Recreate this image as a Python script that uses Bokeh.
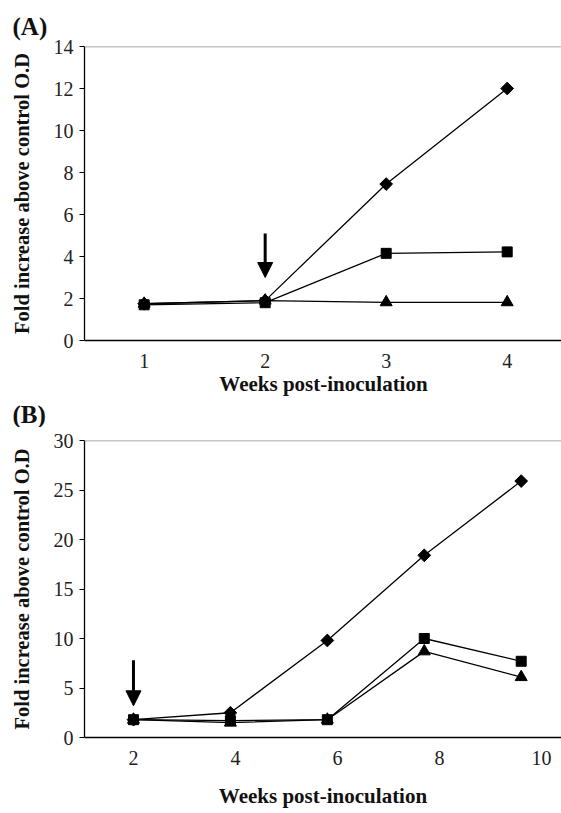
import math
from bokeh.plotting import figure
from bokeh.layouts import column
from bokeh.models import Span, Arrow, NormalHead, Range1d, FixedTicker, Title
from bokeh.embed import file_html
from bokeh.resources import INLINE

# ---------------- data: panel A ----------------
weeks_a = [1, 2, 3, 4]
diamond_a = [1.75, 1.9, 7.45, 12.0]
square_a = [1.7, 1.8, 4.15, 4.22]
triangle_a = [1.75, 1.9, 1.82, 1.82]
yticks_a = [0, 2, 4, 6, 8, 10, 12, 14]
xticks_a = [1, 2, 3, 4]
arrow_a = (2, 5.1, 2, 3.0)

# ---------------- data: panel B ----------------
weeks_b = [2, 3.9, 5.8, 7.7, 9.6]
diamond_b = [1.8, 2.5, 9.8, 18.4, 25.9]
square_b = [1.8, 1.7, 1.8, 10.0, 7.7]
triangle_b = [1.8, 1.5, 1.8, 8.7, 6.1]
yticks_b = [0, 5, 10, 15, 20, 25, 30]
xticks_b = [2, 4, 6, 8, 10]
arrow_b = (2, 7.8, 2, 3.2)

YLABEL = "Fold increase above control O.D"
XLABEL = "Weeks post-inoculation"
FONT = "Liberation Serif"


def tag_title(text, left, standoff):
    return Title(text=text, align="left", offset=-(left - 11), standoff=standoff,
                 text_font=FONT, text_font_style="bold", text_font_size="25px",
                 text_color="#111111")


def make_panel(xs, dia, sq, tri, xr, yr, yticks, xticks, arrow,
               fh, top, bottom, left, xlab_standoff):
    p = figure(output_backend="svg", toolbar_location=None,
               frame_width=561 - left, frame_height=fh,
               min_border_left=left, min_border_right=0,
               min_border_top=top, min_border_bottom=bottom,
               x_range=Range1d(*xr), y_range=Range1d(*yr))
    p.outline_line_color = None
    p.xgrid.grid_line_color = None
    p.ygrid.grid_line_color = None

    # top border line (gray)
    p.add_layout(Span(location=yr[1], dimension="width", line_color="#8c8c8c",
                      line_width=1.5))

    for ys in (dia, sq, tri):
        p.line(xs, ys, line_color="black", line_width=1.3)
    p.scatter(xs, dia, marker="square", angle=math.pi / 4, size=9, color="black")
    p.scatter(xs, sq, marker="square", size=10, color="black")
    p.scatter(xs, tri, marker="triangle", size=12, color="black")

    p.add_layout(Arrow(end=NormalHead(size=15, fill_color="black", line_color="black"),
                       x_start=arrow[0], y_start=arrow[1], x_end=arrow[2], y_end=arrow[3],
                       line_width=3, line_color="black"))

    p.yaxis.ticker = FixedTicker(ticks=yticks)
    p.xaxis.ticker = FixedTicker(ticks=xticks)
    for ax in (p.xaxis[0], p.yaxis[0]):
        ax.axis_line_color = "black"
        ax.axis_line_width = 1.3
        ax.minor_tick_line_color = None
        ax.major_label_text_font = FONT
        ax.major_label_text_font_size = "20px"
        ax.major_label_text_color = "#222222"
        ax.axis_label_text_font = FONT
        ax.axis_label_text_font_style = "bold"
        ax.axis_label_text_color = "#111111"
    p.xaxis.axis_label_text_font_size = "21px"
    p.yaxis.axis_label_text_font_size = "20.5px"
    p.xaxis.major_tick_line_color = None
    p.xaxis.major_label_standoff = 7
    p.xaxis.axis_label = XLABEL
    p.xaxis.axis_label_standoff = xlab_standoff
    p.yaxis.major_tick_out = 5
    p.yaxis.major_tick_in = 0
    p.yaxis.major_tick_line_color = "black"
    p.yaxis.major_label_standoff = 6
    p.yaxis.axis_label = YLABEL
    p.yaxis.axis_label_standoff = 18
    return p


pa = make_panel(weeks_a, diamond_a, square_a, triangle_a,
                (0.507, 4.457), (0, 14), yticks_a, xticks_a, arrow_a,
                fh=294, top=46, bottom=87, left=83, xlab_standoff=1)
pa.add_layout(tag_title("(A)", 83, 13), "above")
# the "(B)" tag sits in the strip between the two panels
pa.add_layout(tag_title("(B)", 83, 0), "below")

pb = make_panel(weeks_b, diamond_b, square_b, triangle_b,
                (1.04, 10.39), (0, 30), yticks_b, xticks_b, arrow_b,
                fh=297, top=13, bottom=76, left=84, xlab_standoff=16)

layout = column(pa, pb, spacing=0)
open("out.html", "w").write(file_html(layout, INLINE))
